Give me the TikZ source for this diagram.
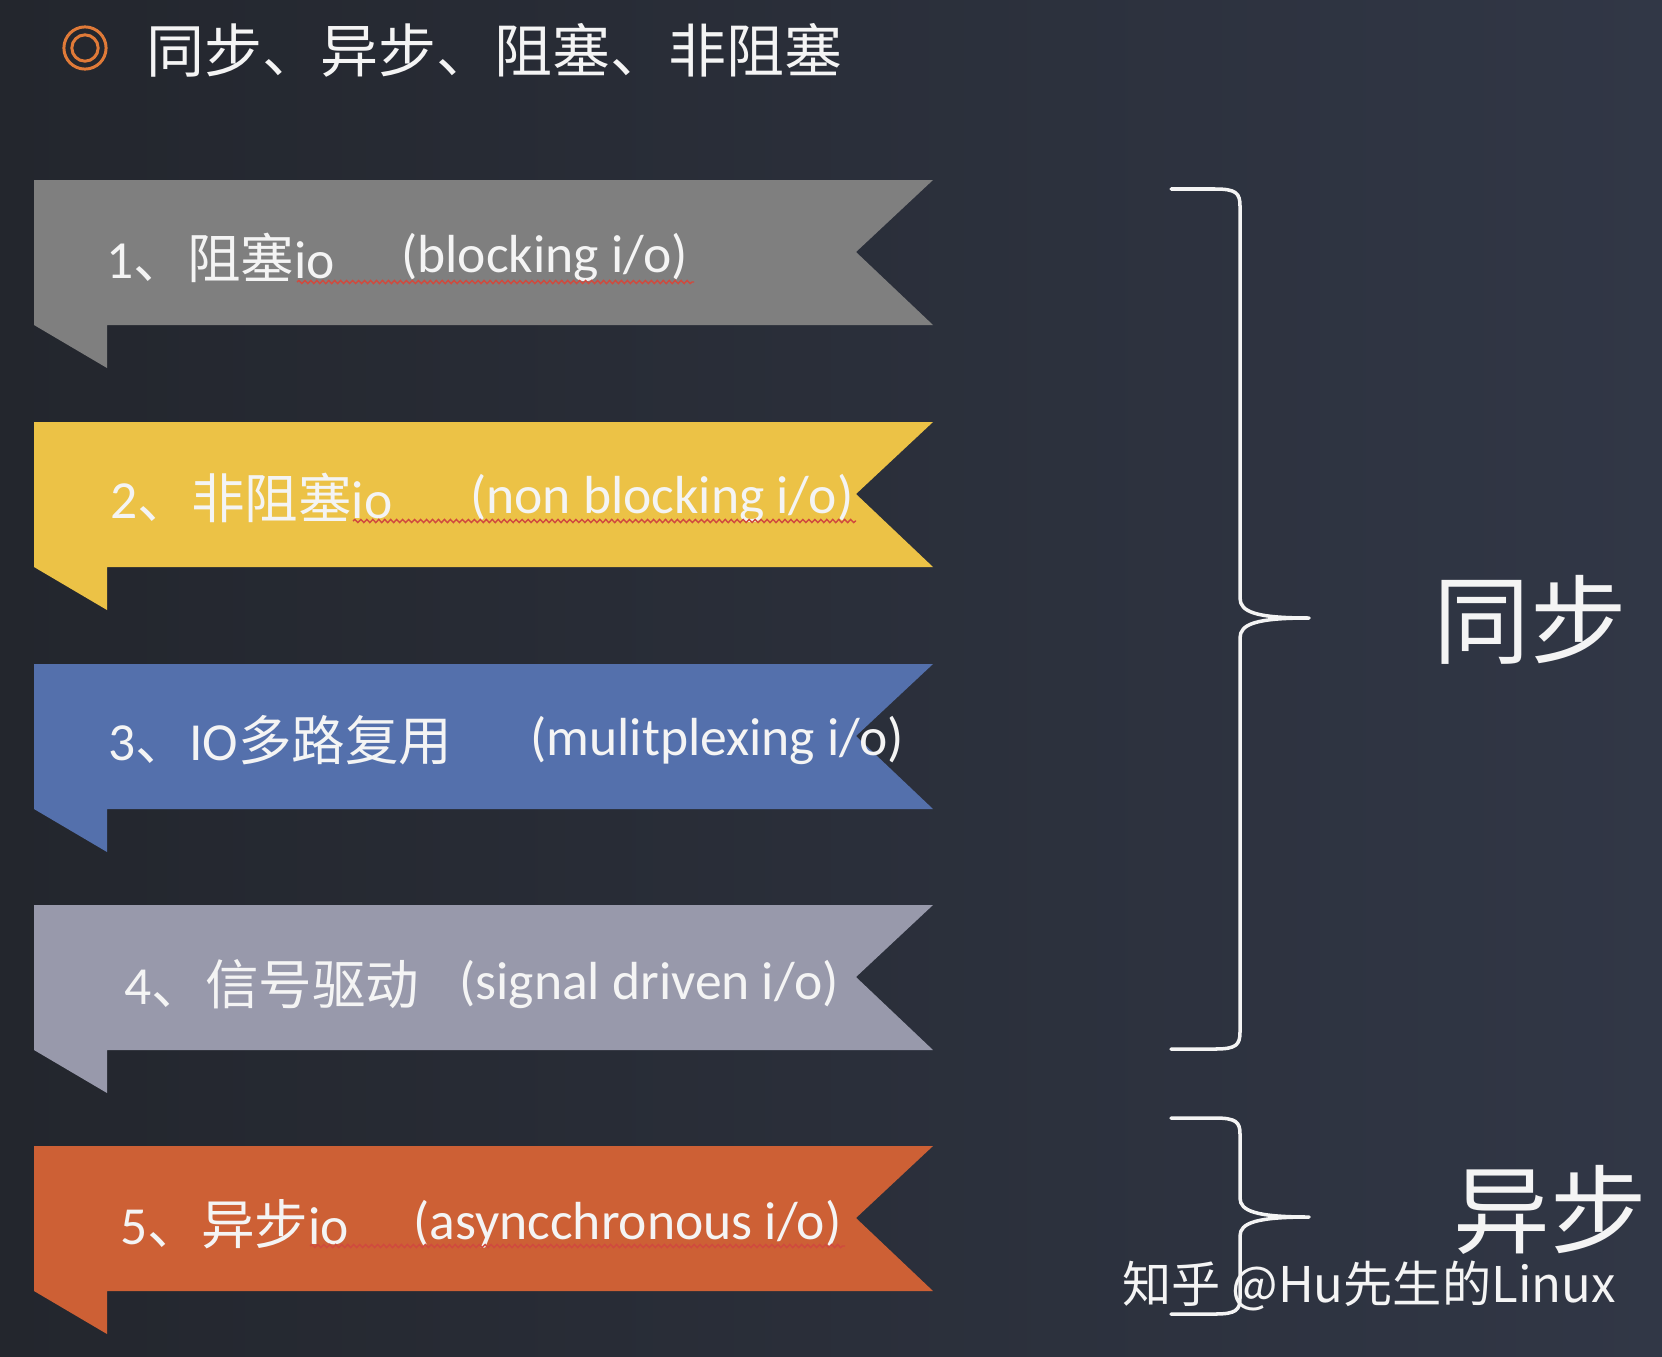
\documentclass[tikz,border=0pt]{standalone}
\usepackage{fontspec}
\setmainfont{Carlito}
\newfontfamily\cjk{Noto Sans CJK SC}
\usetikzlibrary{decorations.pathmorphing}

\definecolor{bgleft}{HTML}{23262D}
\definecolor{bgright}{HTML}{313746}
\definecolor{txtwhite}{HTML}{F4F4F4}
\definecolor{ringorange}{HTML}{E07A38}
\definecolor{ribgray}{HTML}{7F7F7F}
\definecolor{ribyellow}{HTML}{ECC246}
\definecolor{ribblue}{HTML}{5470AC}
\definecolor{riblilac}{HTML}{9899AB}
\definecolor{ribrust}{HTML}{CD6035}
\definecolor{spellred}{HTML}{D04A3E}

\tikzset{
    itemtext/.style={anchor=west, inner sep=0pt, text=txtwhite, font=\fontsize{30.5}{30.5}\selectfont},
    biglabel/.style={inner sep=0pt, text=txtwhite, font=\cjk\fontsize{55}{55}\selectfont},
    bracepath/.style={draw=txtwhite, line width=2pt, line cap=round, line join=round},
    spellwave/.style={draw=spellred, line width=0.8pt, decorate,
        decoration={snake, segment length=3.4pt, amplitude=0.9pt}},
}

\begin{document}
\begin{tikzpicture}[x=0.02cm, y=-0.02cm]
    \shade[left color=bgleft, right color=bgright] (0,0) rectangle (1662,1356);
    \useasboundingbox (0,0) rectangle (1662,1356);

    % title
    \draw[ringorange, line width=1.7pt] (85,48) circle[radius=12pt];
    \draw[ringorange, line width=1.7pt] (85,48) circle[radius=7.5pt];
    \node[anchor=west, inner sep=0pt, text=txtwhite, font=\cjk\fontsize{33}{33}\selectfont]
        (title) at (146,50) {同步、异步、阻塞、非阻塞};

    % ribbons
    \foreach \t/\c in {180/ribgray, 422/ribyellow, 664/ribblue, 905/riblilac, 1146/ribrust} {
        \fill[\c] (34,\t) -- (933,\t) -- (856,\t+72) -- (933,\t+145) -- (107,\t+145)
            -- (107,\t+188) -- (34,\t+145) -- cycle;
    }

    \node[itemtext] (blk)   at (106,258)  {1{\cjk 、阻塞}io};
    \node[itemtext] (blken) at (401,258)  {(blocking i/o)};
    \node[itemtext] (nbk)   at (110,498)  {2{\cjk 、非阻塞}io};
    \node[itemtext] (nbken) at (470,498)  {(non blocking i/o)};
    \node[itemtext] (mux)   at (108,740)  {3{\cjk 、}IO{\cjk 多路复用}};
    \node[itemtext] (muxen) at (530,740)  {(mulitplexing i/o)};
    \node[itemtext] (sig)   at (124,984)  {4{\cjk 、信号驱动}};
    \node[itemtext] (sigen) at (459,984)  {(signal driven i/o)};
    \node[itemtext] (aio)   at (120,1224) {5{\cjk 、异步}io};
    \node[itemtext] (aioen) at (413,1224) {(asyncchronous i/o)};

    \draw[spellwave] (297,282) -- (694,282);
    \draw[spellwave] (353,521) -- (856,521);
    \draw[spellwave] (310,1246) -- (845,1246);

    % braces
    \draw[bracepath] (1171,189) -- (1215,189) .. controls (1236,189) and (1240,193) .. (1240,206)
        -- (1240,598) .. controls (1240,612) and (1256,618) .. (1309,618)
        .. controls (1256,618) and (1240,624) .. (1240,638)
        -- (1240,1032) .. controls (1240,1045) and (1236,1049) .. (1215,1049) -- (1171,1049);
    \draw[bracepath] (1171,1118) -- (1215,1118) .. controls (1236,1118) and (1240,1122) .. (1240,1134)
        -- (1240,1198) .. controls (1240,1211) and (1256,1217) .. (1309,1217)
        .. controls (1256,1217) and (1240,1223) .. (1240,1236)
        -- (1240,1298) .. controls (1240,1310) and (1236,1314) .. (1215,1314) -- (1171,1314);

    \node[biglabel] (sync)  at (1530,620)  {同步};
    \node[biglabel] (async) at (1550,1210) {异步};

    \node[inner sep=0pt, text=txtwhite, font=\cjk\fontsize{28}{28}\selectfont]
        (mark) at (1369,1286) {知乎 @Hu先生的Linux};
\end{tikzpicture}
\end{document}
